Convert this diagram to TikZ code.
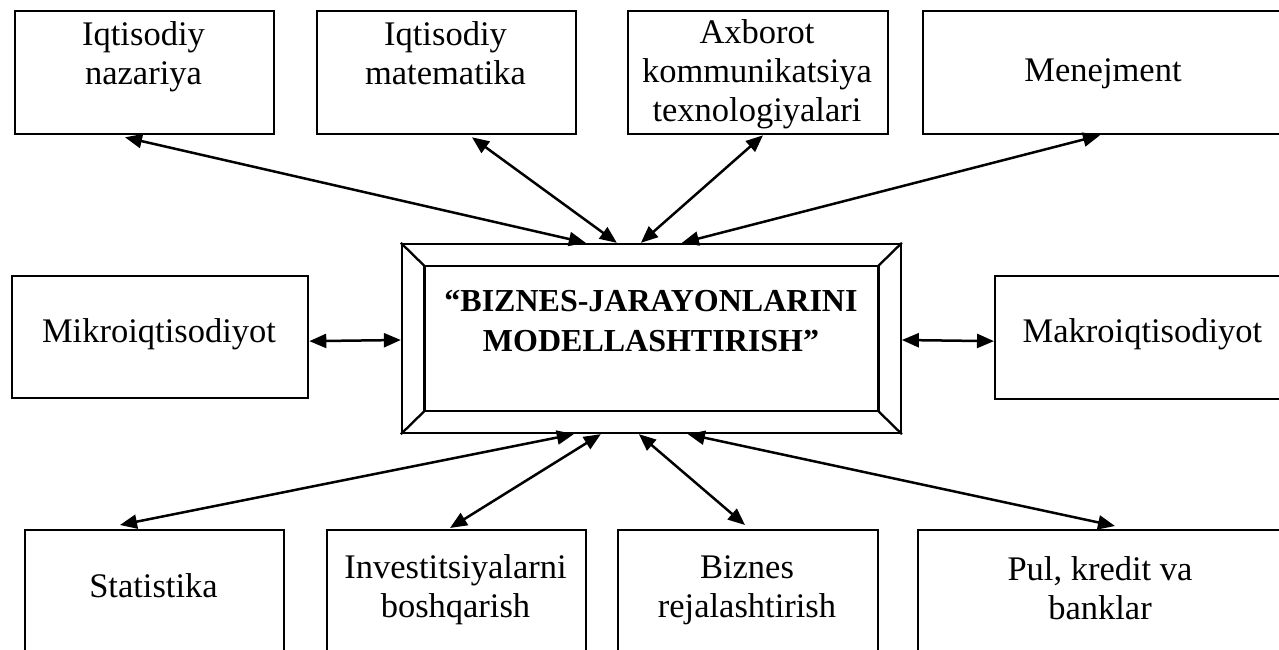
\documentclass[tikz,border=0pt]{standalone}
\usepackage{fontspec}
\setmainfont{Liberation Serif}
\usetikzlibrary{arrows.meta,calc}
% strut that fixes the height of the first text line
\newcommand\topstrut{\rule{0pt}{26pt}}
\begin{document}
\begin{tikzpicture}[x=1pt,y=-1pt,
  box/.style={draw, line width=2.3pt, anchor=north west, inner sep=0pt},
  lbl/.style={inner sep=0pt, align=center, anchor=north,
              font=\fontsize{34.5}{39}\selectfont},
  hubtext/.style={inner sep=0pt, align=center, anchor=north,
              font=\fontsize{32}{40.7}\selectfont\bfseries},
  link/.style={line width=2.5pt,
    {Triangle[length=17pt,width=14pt]}-{Triangle[length=17pt,width=14pt]}}]
\useasboundingbox (0,0) rectangle (1279,650);
\clip (0,0) rectangle (1279,650);
\fill[white] (0,0) rectangle (1279,650);

% top row
\node[box, minimum width=259pt, minimum height=123pt] (nazariya) at (14,10) {};
\node[lbl] (nazariyaT) at (143.5,19) {\topstrut Iqtisodiy\\nazariya};
\node[box, minimum width=259pt, minimum height=123pt] (matem) at (316,10) {};
\node[lbl] (matemT) at (445.5,19) {\topstrut Iqtisodiy\\matematika};
\node[box, minimum width=260pt, minimum height=123pt] (axborot) at (627,10) {};
\node[lbl] (axborotT) at (757,17) {\topstrut Axborot\\kommunikatsiya\\texnologiyalari};
\node[box, minimum width=362pt, minimum height=123pt] (menej) at (922,10) {};
\node[lbl] (menejT) at (1103,55) {\topstrut Menejment};

% middle row
\node[box, minimum width=296pt, minimum height=122pt] (mikro) at (11,275) {};
\node[lbl] (mikroT) at (159,316) {\topstrut Mikroiqtisodiyot};
\node[box, minimum width=297pt, minimum height=123pt] (makro) at (994,275) {};
\node[lbl] (makroT) at (1142.5,316) {\topstrut Makroiqtisodiyot};

% central bevelled frame
\node[draw, line width=2.3pt, minimum width=498.7pt, minimum height=189pt,
      inner sep=0pt] (hub) at (651.35,338.5) {};
\coordinate (innw) at ($(hub.north west)+(23.5,23)$);
\coordinate (inne) at ($(hub.north east)+(-23.5,23)$);
\coordinate (insw) at ($(hub.south west)+(23.5,-23)$);
\coordinate (inse) at ($(hub.south east)+(-23.5,-23)$);
\draw[line width=2.3pt] (innw) -- (inne) -- (inse) -- (insw) -- cycle;
\draw[line width=2.3pt] (hub.north west) -- (innw)
                      (hub.north east) -- (inne)
                      (hub.south west) -- (insw)
                      (hub.south east) -- (inse);
\node[hubtext] (hubT) at (651,285) {\topstrut “BIZNES-JARAYONLARINI\\MODELLASHTIRISH”};

% bottom row
\node[box, minimum width=259pt, minimum height=140pt] (stat) at (24,529) {};
\node[lbl] (statT) at (153.5,571) {\topstrut Statistika};
\node[box, minimum width=259pt, minimum height=140pt] (invest) at (326,529) {};
\node[lbl] (investT) at (455.5,552) {\topstrut Investitsiyalarni\\boshqarish};
\node[box, minimum width=260pt, minimum height=140pt] (biznes) at (617,529) {};
\node[lbl] (biznesT) at (747,552) {\topstrut Biznes\\rejalashtirish};
\node[box, minimum width=366pt, minimum height=140pt] (pul) at (917,529) {};
\node[lbl] (pulT) at (1100,554) {\topstrut Pul, kredit va\\banklar};

% connectors
\draw[link] ($(nazariya.south west)+(111,2)$) -- ($(hub.north west)+(185,0)$);
\draw[link] ($(matem.south west)+(156,2)$) -- ($(hub.north west)+(216,0)$);
\draw[link] ($(axborot.south west)+(136,0)$) -- ($(hub.north west)+(240,0)$);
\draw[link] ($(menej.south west)+(178,0)$) -- ($(hub.north west)+(281,0)$);
\draw[link] ($(mikro.east)+(0,4)$) -- ($(hub.west)+(0,1.5)$);
\draw[link] ($(hub.east)+(0,1.5)$) -- ($(makro.west)+(0,3.5)$);
\draw[link] ($(stat.north west)+(96,-4)$) -- ($(hub.south west)+(173,0)$);
\draw[link] ($(invest.north west)+(124,-1)$) -- ($(hub.south west)+(200,0)$);
\draw[link] ($(biznes.north west)+(128,-4)$) -- ($(hub.south west)+(238,0)$);
\draw[link] ($(pul.north west)+(198,-3)$) -- ($(hub.south west)+(287,0)$);
\end{tikzpicture}
\end{document}
